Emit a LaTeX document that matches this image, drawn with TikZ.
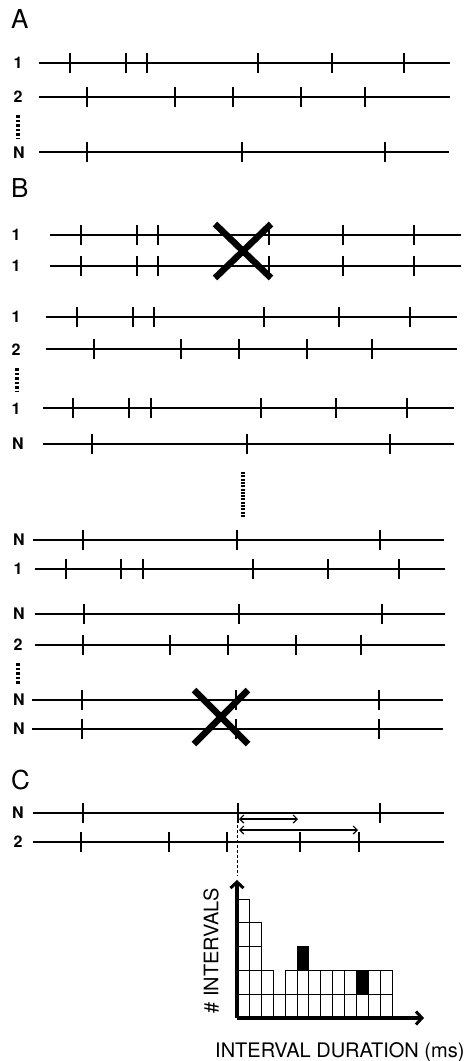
\documentclass[tikz,border=0pt]{standalone}
\usepackage{fontspec}
\setmainfont{TeX Gyre Heros}
\usetikzlibrary{arrows.meta}
\newcommand{\spikerow}[4]{% y, x0, x1, ticks
  \draw[train] (#2,#1) -- (#3,#1);
  \foreach \t in {#4} \draw[train] (\t,#1-10) -- (\t,#1+10);
}
\tikzset{
  train/.style={line width=2.8pt, black},
  rowlab/.style={font=\fontsize{16}{16}\selectfont\bfseries, anchor=center, inner sep=0pt},
  panel/.style={font=\fontsize{26}{26}\selectfont, anchor=base west, inner sep=0pt},
  vdots/.style={line width=3.2pt, dash pattern=on 2.5pt off 2pt},
  cross/.style={line width=6.5pt},
  interval/.style={line width=1.2pt, {Straight Barb[length=4pt,width=8pt]}-{Straight Barb[length=4pt,width=8pt]}},
  axis/.style={line width=3.2pt, -{Straight Barb[length=6pt,width=13pt,line width=3pt]}},
  cell/.style={draw=black, line width=0.9pt},
  axlab/.style={font=\fontsize{20}{20}\selectfont, inner sep=0pt}
}
\begin{document}
\begin{tikzpicture}[x=1pt,y=-1pt]
\useasboundingbox (0,0) rectangle (476,1061);
% ---------------- A ----------------
\node[panel] (pA) at (11,28) {A};
\node[rowlab] (a1) at (18,63) {1};
\node[rowlab] (a2) at (18,97) {2};
\node[rowlab] (aN) at (19,153) {N};
\draw[vdots] (18,115) -- (18,138);
\spikerow{63}{39}{450}{70,126,147,258,332,404}
\spikerow{97}{39}{450}{87,175,233,301,365}
\spikerow{152}{39}{449}{87,242,385}
% ---------------- B ----------------
\node[panel] (pB) at (11,197) {B};
\node[rowlab] (b1) at (16,235) {1};
\node[rowlab] (b2) at (16,266) {1};
\spikerow{235}{50}{461}{81,137,158,269,343,414}
\spikerow{266}{50}{461}{81,137,158,269,343,414}
\draw[cross] (215,224) -- (271,278);
\draw[cross] (271,224) -- (215,278);
\node[rowlab] (b3) at (16,317) {1};
\node[rowlab] (b4) at (16,350) {2};
\spikerow{317}{46}{457}{77,133,154,264,339,410}
\spikerow{349}{46}{457}{94,181,239,307,372}
\draw[vdots] (17,368) -- (17,392);
\node[rowlab] (b5) at (16,409) {1};
\node[rowlab] (b6) at (18,444) {N};
\spikerow{408}{43}{454}{73,129,151,261,336,407}
\spikerow{444}{43}{454}{92,247,390}
\draw[line width=4pt, dash pattern=on 2pt off 1.3pt] (243,472) -- (243,518);
\node[rowlab] (b7) at (19,540) {N};
\node[rowlab] (b8) at (18,569) {1};
\spikerow{540}{33}{444}{83,237,380}
\spikerow{569}{35}{445}{66,121,143,253,328,399}
\node[rowlab] (b9) at (19,614) {N};
\node[rowlab] (b10) at (18,645) {2};
\spikerow{614}{35}{445}{84,239,382}
\spikerow{645}{35}{445}{83,170,228,296,361}
\draw[vdots] (18,663) -- (18,685);
\node[rowlab] (b11) at (19,700) {N};
\node[rowlab] (b12) at (19,729) {N};
\spikerow{700}{32}{443}{82,236,379}
\spikerow{729}{32}{443}{82,236,379}
\draw[cross] (194,690) -- (248,744);
\draw[cross] (248,690) -- (194,744);
% ---------------- C ----------------
\node[panel] (pC) at (11,789) {C};
\node[rowlab] (c1) at (18,813) {N};
\node[rowlab] (c2) at (18,842) {2};
\spikerow{813}{33}{444}{83,238,380}
\spikerow{842}{33}{444}{81,169,227,300,359}
\coordinate (a1s) at (239,819);
\coordinate (a1e) at (298,819);
\coordinate (a2s) at (239,830);
\coordinate (a2e) at (358,830);
\draw[interval] (a1s) -- (a1e);
\draw[interval] (a2s) -- (a2e);
\coordinate (dtop) at (237,825);
\coordinate (dbot) at (237,876);
\draw[line width=1pt, dash pattern=on 3pt off 2pt] (dtop) -- (dbot);
% histogram
\def\bw{11.9}
\def\rh{23.8}
\foreach \h [count=\i from 0] in {5,4,2,1,2,3,2,2,2,2,2,2,2} {
  \foreach \r in {1,...,\h} {
    \draw[cell] (237.5+\i*\bw,1018-\r*\rh+\rh) rectangle (237.5+\i*\bw+\bw,1018-\r*\rh);
  }
}
\fill[black] (237.5+5*\bw,1018-3*\rh) rectangle (237.5+6*\bw,1018-2*\rh);
\fill[black] (237.5+10*\bw,1018-2*\rh) rectangle (237.5+11*\bw,1018-1*\rh);
\coordinate (orig) at (237,1018);
\coordinate (ytop) at (237,880);
\coordinate (xend) at (424,1018);
\draw[axis] (orig) -- (ytop);
\draw[axis] (orig) -- (xend);
\node[axlab, rotate=90] (ylab) at (211,951) {\# INTERVALS};
\node[axlab, anchor=base west] (xlab) at (215,1057) {INTERVAL DURATION (ms)};
\end{tikzpicture}
\end{document}
